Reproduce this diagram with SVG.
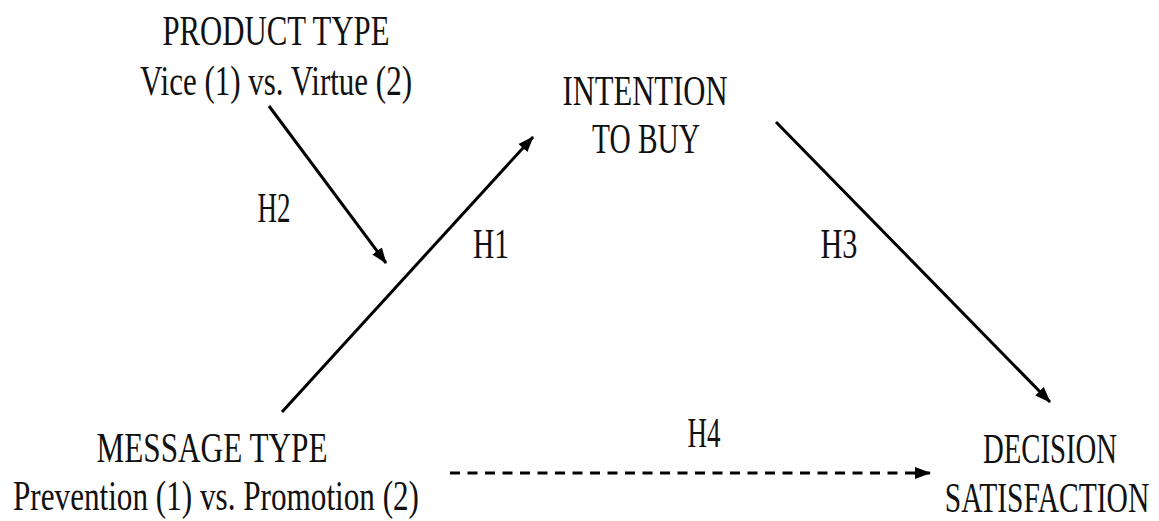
<svg xmlns="http://www.w3.org/2000/svg" width="1159" height="521" viewBox="0 0 1159 521">
<style>
text{font-family:"Liberation Serif","Times New Roman",serif;font-size:42px;fill:#111;text-anchor:middle}
.c{stroke:#000;stroke-width:3;fill:none}
.d{stroke-dasharray:10 7.5}
</style>
<defs>
<marker id="ah" markerUnits="userSpaceOnUse" markerWidth="16" markerHeight="14" refX="15" refY="7" orient="auto">
<path d="M0,1 L16,7 L0,13 Z" fill="#000"/>
</marker>
</defs>
<rect width="1159" height="521" fill="#fff"/>
<g id="connectors">
<line class="c" x1="269" y1="106" x2="386" y2="263" marker-end="url(#ah)"/>
<line class="c" x1="282" y1="412" x2="533" y2="137" marker-end="url(#ah)"/>
<line class="c" x1="776" y1="122" x2="1050" y2="402" marker-end="url(#ah)"/>
<line class="c d" x1="450" y1="473" x2="930" y2="473" marker-end="url(#ah)"/>
<text x="274" y="222" textLength="33" lengthAdjust="spacingAndGlyphs">H2</text>
<text x="491" y="258" textLength="36" lengthAdjust="spacingAndGlyphs">H1</text>
<text x="839" y="258" textLength="37" lengthAdjust="spacingAndGlyphs">H3</text>
<text x="704" y="447" textLength="33" lengthAdjust="spacingAndGlyphs">H4</text>
</g>
<g id="product-type">
<text x="276" y="45" textLength="227" lengthAdjust="spacingAndGlyphs">PRODUCT TYPE</text>
<text x="276" y="95" textLength="272" lengthAdjust="spacingAndGlyphs">Vice (1) vs. Virtue (2)</text>
</g>
<g id="intention-to-buy">
<text x="645" y="105" textLength="165" lengthAdjust="spacingAndGlyphs">INTENTION</text>
<text x="646" y="153" textLength="108" lengthAdjust="spacingAndGlyphs">TO BUY</text>
</g>
<g id="message-type">
<text x="212" y="462" textLength="231" lengthAdjust="spacingAndGlyphs">MESSAGE TYPE</text>
<text x="216" y="510" textLength="406" lengthAdjust="spacingAndGlyphs">Prevention (1) vs. Promotion (2)</text>
</g>
<g id="decision-satisfaction">
<text transform="translate(1050,463) scale(0.684,1)">DECISION</text>
<text transform="translate(1047,512) scale(0.703,1)">SATISFACTION</text>
</g>
</svg>
